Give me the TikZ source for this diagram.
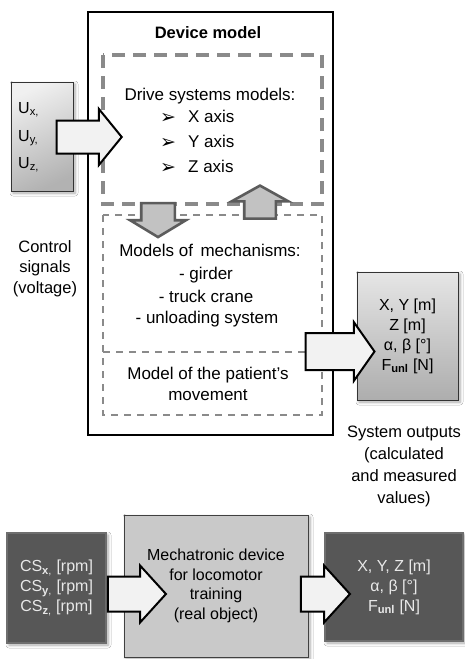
\documentclass[tikz,border=0pt]{standalone}
\usepackage{fontspec}
\setmainfont{Liberation Sans}
\newfontfamily\symfont{DejaVu Sans}
\usetikzlibrary{shapes.arrows,shadows.blur}

\definecolor{dashgray}{HTML}{8A8A8A}
\definecolor{arrowfill}{HTML}{F2F2F2}
\definecolor{smallfill}{HTML}{C2C2C2}
\definecolor{smalledge}{HTML}{5C5C5C}
\definecolor{darkbox}{HTML}{575757}
\definecolor{darkedge}{HTML}{6E6E6E}
\definecolor{midbox}{HTML}{C9C9C9}
\definecolor{lighttext}{HTML}{E8E8E8}

\tikzset{
  softshadow/.style={blur shadow={shadow xshift=2pt, shadow yshift=-2pt,
      shadow blur steps=6, shadow blur radius=3pt, shadow opacity=35}},
  signalbox/.style={draw=black!80, line width=1pt, softshadow,
      shading=axis, top color=black!6, bottom color=black!30, shading angle=25,
      inner sep=0pt, align=left},
  outbox/.style={draw=black!80, line width=1pt, softshadow,
      shading=axis, top color=black!10, bottom color=black!32,
      inner sep=0pt, align=center},
  darkblock/.style={draw=darkedge, line width=1.5pt, fill=darkbox, softshadow,
      text=lighttext, inner sep=0pt, align=center},
  midblock/.style={draw=black!75, line width=1pt, fill=midbox, softshadow,
      inner sep=0pt, align=center},
  bigarrow/.style={single arrow, draw=black, line width=2pt, fill=arrowfill,
      inner xsep=0pt},
  smallarrow/.style={single arrow, draw=smalledge, line width=2.6pt, fill=smallfill,
      inner xsep=0pt},
  thickdash/.style={draw=dashgray, line width=3.2pt, dash pattern=on 13pt off 8pt},
  thindash/.style={draw=dashgray, line width=1.8pt, dash pattern=on 7pt off 6pt},
  label/.style={anchor=base, inner sep=0pt, align=center},
  bigtext/.style={font=\fontsize{17}{21}\selectfont},
  bullet/.style={anchor=base, inner sep=0pt, font=\symfont\fontsize{19}{20}\selectfont},
}

\begin{document}
\begin{tikzpicture}[x=1pt, y=-1pt, font=\fontsize{16}{20}\selectfont]
\useasboundingbox[fill=white] (0,0) rectangle (465,659);

% ---------- simulation model ----------
\node[draw=black, line width=2.2pt, fill=white, minimum width=245pt,
      minimum height=423pt, inner sep=0pt] (device) at (210.5,223.5) {};
\node[label, font=\fontsize{16.5}{20}\selectfont\bfseries] (devtitle) at (208,38) {Device model};

% drive systems part
\draw[thickdash] (103,55) rectangle (322,204);
\node[label, bigtext] (drives) at (210,100) {Drive systems models:};
\node[bullet] (bx) at (168,123) {➢};
\node[bullet] (by) at (168,148) {➢};
\node[bullet] (bz) at (168,173) {➢};
\node[label, bigtext, anchor=base west] (ax) at (188,122) {X axis};
\node[label, bigtext, anchor=base west] (ay) at (188,147) {Y axis};
\node[label, bigtext, anchor=base west] (az) at (188,172) {Z axis};

% mechanisms and patient part
\draw[thindash] (103,215) rectangle (322,415);
\draw[thindash] (103,352) -- (322,352);
\node[label, bigtext] (mech) at (210,256) {Models of\, mechanisms:};
\node[label, bigtext] (m1) at (206,279) {- girder};
\node[label, bigtext] (m2) at (206,302) {- truck crane};
\node[label, bigtext] (m3) at (207,323) {- unloading system};
\node[label, bigtext] (pat) at (208,400) {Model of the patient's\\movement};

% ---------- inputs ----------
\node[signalbox, minimum width=62pt, minimum height=109pt] (inputs) at (42,136.5) {};
\node[label, anchor=base west] (ux) at (18,113) {U\textsubscript{x,}};
\node[label, anchor=base west] (uy) at (18,141) {U\textsubscript{y,}};
\node[label, anchor=base west] (uz) at (18,168) {U\textsubscript{z,}};
\node[label, font=\fontsize{16.5}{20.5}\selectfont] (ctrl) at (45,293) {Control\\signals\\(voltage)};

% ---------- outputs ----------
\node[outbox, minimum width=101pt, minimum height=128pt] (outputs) at (407.5,336)
  {X, Y [m]\\Z [m]\\α, β [°]\\F\textsubscript{\textbf{unl}} [N]};
\node[label, font=\fontsize{16.5}{22}\selectfont] (outtxt) at (404,503)
  {System outputs\\(calculated\\and measured\\values)};

% ---------- real object ----------
\node[darkblock, minimum width=99pt, minimum height=110pt] (csbox) at (56.5,588)
  {CS\textsubscript{\textbf{x},} [rpm]\\CS\textsubscript{\textbf{y},} [rpm]\\CS\textsubscript{\textbf{z},} [rpm]};
\node[midblock, minimum width=184pt, minimum height=142pt,
      font=\fontsize{16}{19.5}\selectfont] (device2) at (216,586)
  {Mechatronic device\\for locomotor\\training\\(real object)};
\node[darkblock, minimum width=138pt, minimum height=108pt] (meas) at (394,587)
  {X, Y, Z [m]\\α, β [°]\\F\textsubscript{\textbf{unl}} [N]};

% ---------- block arrows ----------
\node[bigarrow, minimum height=65pt, inner ysep=15.5pt,
      single arrow head extend=11.5pt, single arrow tip angle=101.7] (a1) at (82.5,137) {};
\node[bigarrow, minimum height=69pt, inner ysep=17.5pt,
      single arrow head extend=11pt, single arrow tip angle=109.8] (a2) at (333.5,351.5) {};
\node[bigarrow, minimum height=58pt, inner ysep=16.5pt,
      single arrow head extend=11pt, single arrow tip angle=95.5] (a3) at (129,594) {};
\node[bigarrow, minimum height=49pt, inner ysep=16.5pt,
      single arrow head extend=11pt, single arrow tip angle=95.5] (a4) at (317.5,594) {};

\node[smallarrow, rotate=-90, minimum height=34pt, inner ysep=15.5pt,
      single arrow head extend=11pt, single arrow tip angle=117.7] (down) at (158,215) {};
\node[smallarrow, rotate=90, minimum height=33pt, inner ysep=14.5pt,
      single arrow head extend=12.5pt, single arrow tip angle=121.9] (up) at (260,206.5) {};
\end{tikzpicture}
\end{document}
